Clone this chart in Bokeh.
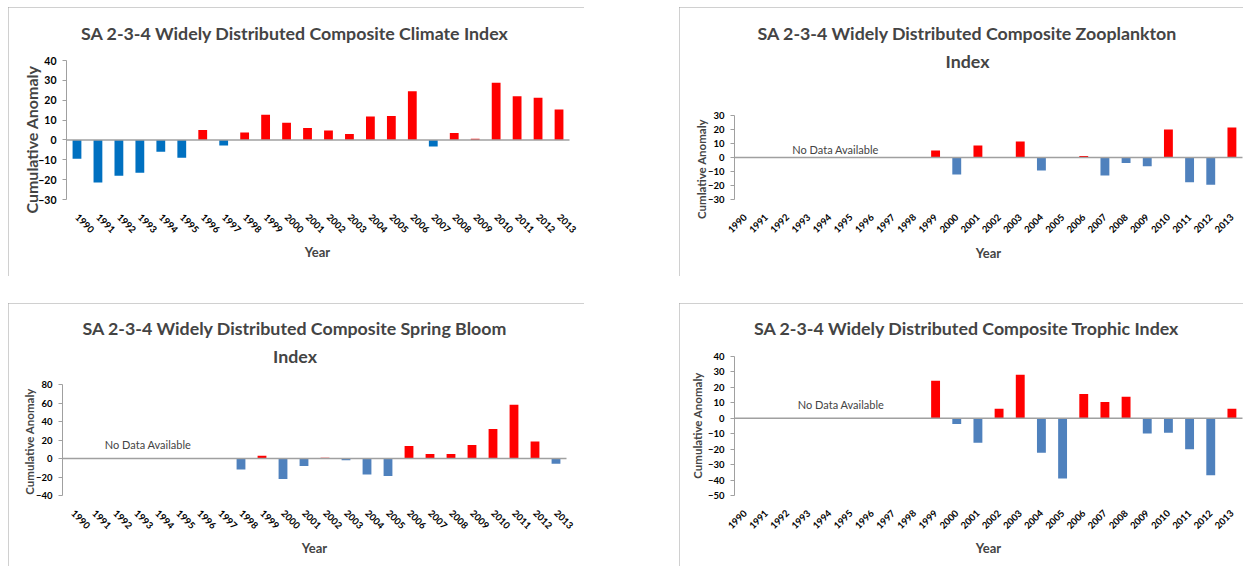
import math
from bokeh.plotting import figure
from bokeh.models import Range1d, FixedTicker, Label, Spacer, ColumnDataSource
from bokeh.layouts import column, row
from bokeh.embed import file_html
from bokeh.resources import INLINE

# ---------------- data ----------------
years = [1990, 1991, 1992, 1993, 1994, 1995, 1996, 1997, 1998, 1999, 2000, 2001,
         2002, 2003, 2004, 2005, 2006, 2007, 2008, 2009, 2010, 2011, 2012, 2013]
year_labels = ["1990", "1991", "1992", "1993", "1994", "1995", "1996", "1997",
               "1998", "1999", "2000", "2001", "2002", "2003", "2004", "2005",
               "2006", "2007", "2008", "2009", "2010", "2011", "2012", "2013"]

climate = [-9.5, -21.5, -18.0, -16.5, -6.0, -9.0, 5.0, -2.8, 3.7, 12.7, 8.7, 6.0,
           4.7, 3.0, 11.8, 12.0, 24.5, -3.3, 3.5, 0.6, 28.8, 22.0, 21.3, 15.3]
zooplankton = [None, None, None, None, None, None, None, None, None, 5.0, -12.1, 8.6,
               None, 11.4, -9.3, None, 1.0, -12.9, -4.0, -6.2, 20.0, -17.6, -19.5, 21.4]
spring_bloom = [None, None, None, None, None, None, None, None, -11.8, 2.9, -22.2, -8.2,
                0.7, -1.8, -17.2, -19.0, 13.6, 5.0, 5.0, 14.7, 31.9, 58.0, 18.3, -5.7]
trophic = [None, None, None, None, None, None, None, None, None, 24.3, -3.7, -15.8,
           6.1, 28.2, -22.4, -39.0, 15.8, 10.6, 13.9, -9.8, -9.3, -20.0, -36.9, 6.1]

climate_ticks = [-30, -20, -10, 0, 10, 20, 30, 40]
zoo_ticks = [-30, -20, -10, 0, 10, 20, 30]
spring_ticks = [-40, -20, 0, 20, 40, 60, 80]
trophic_ticks = [-50, -40, -30, -20, -10, 0, 10, 20, 30, 40]

FONT = "Lato"
RED = "#FF0000"
GREY = "#a0a0a0"


def panel(vals, ticks, blue, box, frame, title_lines, title_xy, ylabel, ylabel_size,
          ytick_size, ylabel_xy, year_xy, nodata_xy, orient):
    """box = (left, top, width, height) of the panel on the page;
    frame = (left, right, top_tick_y, bottom_tick_y): page pixels of the plotting area."""
    bx, by, bw, bh = box
    fl, fr, ft, fb = frame
    ppu = (fb - ft) / (ticks[-1] - ticks[0])
    ppx = (fr - fl) / len(years)
    x0 = years[0] - 0.5
    x1 = years[-1] + 0.5

    def dx(px):
        return x0 + (px - fl) / ppx

    def dy(py):
        return ticks[0] + (fb - py) / ppu

    p = figure(width=bw, height=bh, output_backend="svg", toolbar_location=None,
               x_range=Range1d(dx(bx), dx(bx + bw)), y_range=Range1d(dy(by + bh), dy(by)),
               min_border_left=0, min_border_right=0, min_border_top=0, min_border_bottom=0)
    p.outline_line_color = None
    p.xgrid.visible = False
    p.ygrid.visible = False
    p.background_fill_color = "white"
    p.border_fill_color = "white"
    p.styles = {"outline": "1px solid " + GREY, "outline-offset": "-1px"}

    tops = [float("nan") if v is None else v for v in vals]
    colors = [RED if (v is not None and v >= 0) else blue for v in vals]
    src = ColumnDataSource(dict(x=years, top=tops, color=colors))
    p.vbar(x="x", top="top", bottom=0, width=0.42, fill_color="color",
           line_color=None, source=src)
    # zero line across the category axis
    p.line(x=[x0, x1], y=[0, 0], line_color=GREY, line_width=1.6)

    xa = p.xaxis[0]
    xa.fixed_location = ticks[0]
    xa.ticker = FixedTicker(ticks=years)
    xa.major_label_overrides = {y: s for y, s in zip(years, year_labels)}
    xa.axis_line_color = None
    xa.major_tick_line_color = None
    xa.minor_tick_line_color = None
    xa.major_label_orientation = orient
    xa.major_label_standoff = 10
    xa.major_label_text_font = FONT
    xa.major_label_text_font_style = "bold"
    xa.major_label_text_font_size = "9.5px"
    xa.major_label_text_color = "black"

    ya = p.yaxis[0]
    ya.fixed_location = x0
    ya.ticker = FixedTicker(ticks=ticks)
    ya.bounds = (ticks[0], ticks[-1])
    ya.axis_line_color = GREY
    ya.major_tick_line_color = GREY
    ya.major_tick_out = 4
    ya.major_tick_in = 0
    ya.minor_tick_line_color = None
    ya.major_label_standoff = 6
    ya.major_label_text_font = FONT
    ya.major_label_text_font_style = "bold"
    ya.major_label_text_font_size = ytick_size
    ya.major_label_text_color = "black"

    tx, ty = title_xy
    for i, t in enumerate(title_lines):
        p.add_layout(Label(x=dx(tx), y=dy(ty + 28 * i), text=t, text_font=FONT,
                           text_font_style="bold", text_font_size="17.8px",
                           text_align="center", text_baseline="middle"))
    p.add_layout(Label(x=dx(ylabel_xy[0]), y=dy(ylabel_xy[1]), text=ylabel, text_font=FONT,
                       text_font_style="bold", text_font_size=ylabel_size,
                       angle=math.pi / 2, text_align="center", text_baseline="middle"))
    p.add_layout(Label(x=dx(year_xy[0]), y=dy(year_xy[1]), text="Year", text_font=FONT,
                       text_font_style="bold", text_font_size="13px",
                       text_align="center", text_baseline="middle"))
    if nodata_xy is not None:
        p.add_layout(Label(x=dx(nodata_xy[0]), y=dy(nodata_xy[1]), text="No Data Available",
                           text_font=FONT, text_font_size="11px",
                           text_align="center", text_baseline="middle"))
    return p


p1 = panel(climate, climate_ticks, "#0070C0", (8, 7, 576, 269), (66, 569, 60, 199),
           ["SA 2-3-4 Widely Distributed Composite Climate Index"], (294.5, 32),
           "Cumulative Anomaly", "16px", "10.5px", (31, 139), (317, 251), None, -math.pi / 4)
p2 = panel(zooplankton, zoo_ticks, "#4F81BD", (679, 7, 564, 269), (734, 1242, 115, 199),
           ["SA 2-3-4 Widely Distributed Composite Zooplankton", "Index"], (967, 32),
           "Cumlative Anomaly", "11.5px", "9.5px", (701, 168.5), (988, 252), (835, 149),
           math.pi / 4)
p3 = panel(spring_bloom, spring_ticks, "#4F81BD", (8, 303, 576, 263), (62, 566, 384, 495),
           ["SA 2-3-4 Widely Distributed Composite Spring Bloom", "Index"], (294.5, 327),
           "Cumulative Anomaly", "11.5px", "9.5px", (29, 441), (314, 547), (147.5, 444),
           -math.pi / 4)
p4 = panel(trophic, trophic_ticks, "#4F81BD", (679, 303, 564, 263), (734, 1242, 356, 495),
           ["SA 2-3-4 Widely Distributed Composite Trophic Index"], (966.5, 327),
           "Cumulative Anomaly", "11.5px", "9.5px", (697, 425), (988, 547), (840.5, 404),
           math.pi / 4)

layout = column(Spacer(height=7),
                row(Spacer(width=8), p1, Spacer(width=95), p2),
                Spacer(height=27),
                row(Spacer(width=8), p3, Spacer(width=95), p4))

open("out.html", "w").write(file_html(layout, INLINE))
